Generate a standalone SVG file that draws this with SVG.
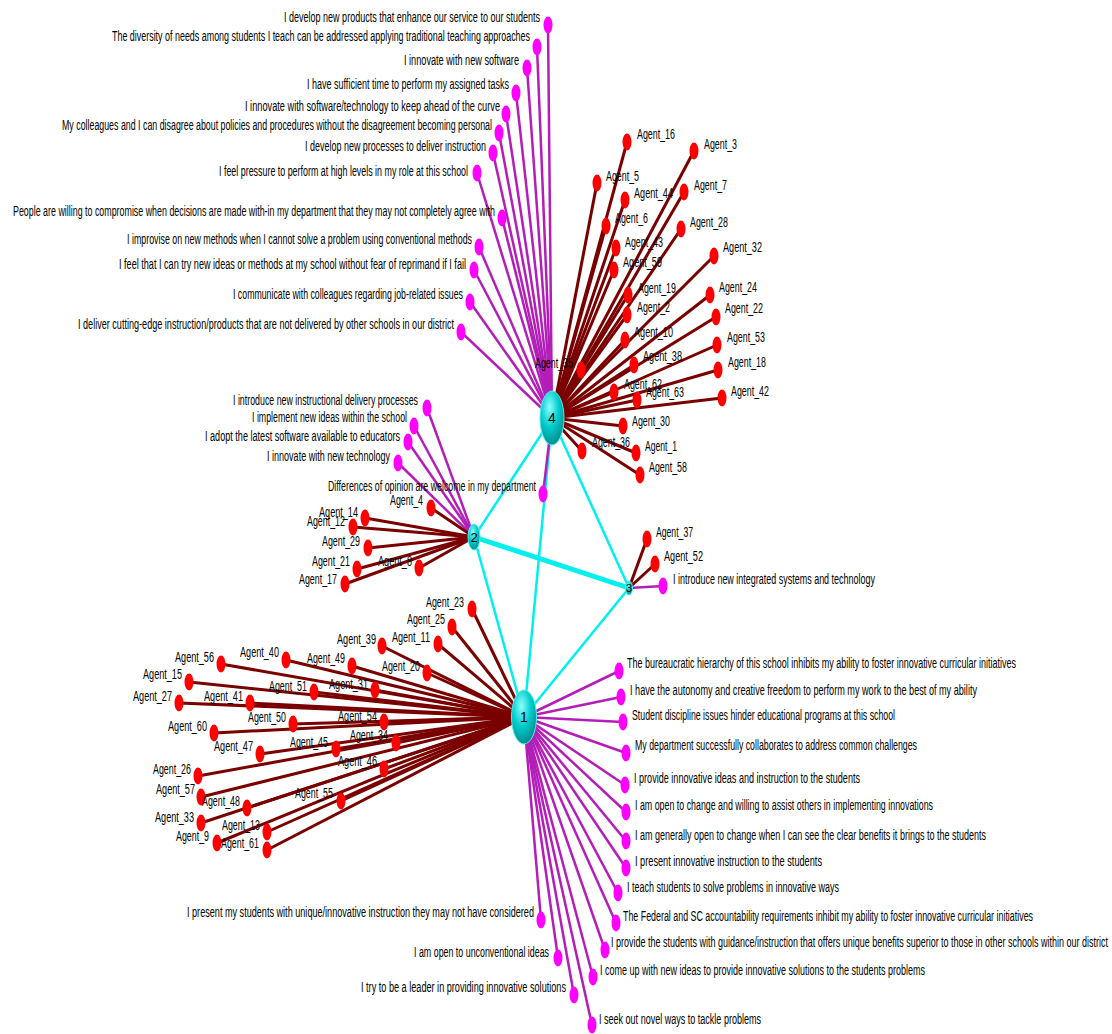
<svg xmlns="http://www.w3.org/2000/svg" width="1112" height="1034" viewBox="0 0 1112 1034">
<defs>
<radialGradient id="hubg" cx="0.4" cy="0.3" r="0.75">
<stop offset="0" stop-color="#8affff"/>
<stop offset="0.5" stop-color="#00cccc"/>
<stop offset="1" stop-color="#008585"/>
</radialGradient>
<style>
.cy{stroke:#00f0f0;stroke-width:2.5}
.cyt{stroke:#00f0f0;stroke-width:5}
.ag{stroke:#7a0000;stroke-width:3}
.it{stroke:#b31eb8;stroke-width:2.5}
.ad{fill:#ff0000}
.id{fill:#ff00ff}
.hub{fill:url(#hubg);stroke:#4ff0f0;stroke-width:1}
text{font-family:"Liberation Sans",Arial,sans-serif;font-size:14px;fill:#000}
.hl{text-anchor:middle;font-size:14px}
</style>
</defs>
<rect width="1112" height="1034" fill="#ffffff"/>
<g id="connectors">
<!-- hub to hub -->
<line class="cy" x1="552" y1="418" x2="474" y2="537"/>
<line class="cy" x1="552" y1="418" x2="629" y2="588"/>
<line class="cy" x1="552" y1="418" x2="524" y2="717"/>
<line class="cy" x1="474" y1="537" x2="524" y2="717"/>
<line class="cyt" x1="474" y1="537" x2="629" y2="588"/>
<line class="cy" x1="524" y1="717" x2="629" y2="588"/>
<!-- node 4 items -->
<line class="it" x1="548" y1="25" x2="552" y2="418"/>
<line class="it" x1="537" y1="47" x2="552" y2="418"/>
<line class="it" x1="527" y1="68" x2="552" y2="418"/>
<line class="it" x1="516" y1="93" x2="552" y2="418"/>
<line class="it" x1="506" y1="114" x2="552" y2="418"/>
<line class="it" x1="499" y1="133" x2="552" y2="418"/>
<line class="it" x1="493" y1="153" x2="552" y2="418"/>
<line class="it" x1="477" y1="173" x2="552" y2="418"/>
<line class="it" x1="502" y1="218" x2="552" y2="418"/>
<line class="it" x1="479" y1="247" x2="552" y2="418"/>
<line class="it" x1="474" y1="270" x2="552" y2="418"/>
<line class="it" x1="470" y1="302" x2="552" y2="418"/>
<line class="it" x1="461" y1="332" x2="552" y2="418"/>
<line class="it" x1="543" y1="494" x2="552" y2="418"/>
<!-- node 4 agents -->
<line class="ag" x1="627" y1="142" x2="552" y2="418"/>
<line class="ag" x1="694" y1="151" x2="552" y2="418"/>
<line class="ag" x1="597" y1="183" x2="552" y2="418"/>
<line class="ag" x1="625" y1="200" x2="552" y2="418"/>
<line class="ag" x1="684" y1="192" x2="552" y2="418"/>
<line class="ag" x1="606" y1="226" x2="552" y2="418"/>
<line class="ag" x1="681" y1="229" x2="552" y2="418"/>
<line class="ag" x1="616" y1="248" x2="552" y2="418"/>
<line class="ag" x1="614" y1="270" x2="552" y2="418"/>
<line class="ag" x1="714" y1="256" x2="552" y2="418"/>
<line class="ag" x1="628" y1="295" x2="552" y2="418"/>
<line class="ag" x1="710" y1="295" x2="552" y2="418"/>
<line class="ag" x1="627" y1="315" x2="552" y2="418"/>
<line class="ag" x1="716" y1="317" x2="552" y2="418"/>
<line class="ag" x1="625" y1="340" x2="552" y2="418"/>
<line class="ag" x1="717" y1="345" x2="552" y2="418"/>
<line class="ag" x1="581" y1="370" x2="552" y2="418"/>
<line class="ag" x1="634" y1="365" x2="552" y2="418"/>
<line class="ag" x1="718" y1="370" x2="552" y2="418"/>
<line class="ag" x1="614" y1="392" x2="552" y2="418"/>
<line class="ag" x1="637" y1="400" x2="552" y2="418"/>
<line class="ag" x1="722" y1="398" x2="552" y2="418"/>
<line class="ag" x1="623" y1="426" x2="552" y2="418"/>
<line class="ag" x1="582" y1="451" x2="552" y2="418"/>
<line class="ag" x1="636" y1="453" x2="552" y2="418"/>
<line class="ag" x1="640" y1="475" x2="552" y2="418"/>
<!-- node 2 -->
<line class="it" x1="427" y1="408" x2="474" y2="537"/>
<line class="it" x1="414" y1="426" x2="474" y2="537"/>
<line class="it" x1="408" y1="442" x2="474" y2="537"/>
<line class="it" x1="398" y1="463" x2="474" y2="537"/>
<line class="ag" x1="431" y1="508" x2="474" y2="537"/>
<line class="ag" x1="365" y1="518" x2="474" y2="537"/>
<line class="ag" x1="353" y1="527" x2="474" y2="537"/>
<line class="ag" x1="368" y1="548" x2="474" y2="537"/>
<line class="ag" x1="357" y1="569" x2="474" y2="537"/>
<line class="ag" x1="345" y1="584" x2="474" y2="537"/>
<line class="ag" x1="419" y1="568" x2="474" y2="537"/>
<!-- node 3 -->
<line class="ag" x1="647" y1="539" x2="629" y2="588"/>
<line class="ag" x1="655" y1="564" x2="629" y2="588"/>
<line class="it" x1="663" y1="586" x2="629" y2="588"/>
<!-- node 1 agents -->
<line class="ag" x1="472" y1="609" x2="524" y2="717"/>
<line class="ag" x1="452" y1="627" x2="524" y2="717"/>
<line class="ag" x1="438" y1="644" x2="524" y2="717"/>
<line class="ag" x1="382" y1="646" x2="524" y2="717"/>
<line class="ag" x1="427" y1="673" x2="524" y2="717"/>
<line class="ag" x1="221" y1="664" x2="524" y2="717"/>
<line class="ag" x1="286" y1="660" x2="524" y2="717"/>
<line class="ag" x1="352" y1="666" x2="524" y2="717"/>
<line class="ag" x1="189" y1="682" x2="524" y2="717"/>
<line class="ag" x1="314" y1="692" x2="524" y2="717"/>
<line class="ag" x1="375" y1="690" x2="524" y2="717"/>
<line class="ag" x1="179" y1="703" x2="524" y2="717"/>
<line class="ag" x1="250" y1="703" x2="524" y2="717"/>
<line class="ag" x1="214" y1="733" x2="524" y2="717"/>
<line class="ag" x1="293" y1="724" x2="524" y2="717"/>
<line class="ag" x1="384" y1="722" x2="524" y2="717"/>
<line class="ag" x1="396" y1="743" x2="524" y2="717"/>
<line class="ag" x1="260" y1="754" x2="524" y2="717"/>
<line class="ag" x1="336" y1="749" x2="524" y2="717"/>
<line class="ag" x1="384" y1="769" x2="524" y2="717"/>
<line class="ag" x1="198" y1="776" x2="524" y2="717"/>
<line class="ag" x1="201" y1="797" x2="524" y2="717"/>
<line class="ag" x1="247" y1="808" x2="524" y2="717"/>
<line class="ag" x1="341" y1="801" x2="524" y2="717"/>
<line class="ag" x1="201" y1="823" x2="524" y2="717"/>
<line class="ag" x1="267" y1="832" x2="524" y2="717"/>
<line class="ag" x1="217" y1="843" x2="524" y2="717"/>
<line class="ag" x1="267" y1="850" x2="524" y2="717"/>
<!-- node 1 items -->
<line class="it" x1="619" y1="671" x2="524" y2="717"/>
<line class="it" x1="621" y1="697" x2="524" y2="717"/>
<line class="it" x1="623" y1="722" x2="524" y2="717"/>
<line class="it" x1="626" y1="753" x2="524" y2="717"/>
<line class="it" x1="625" y1="785" x2="524" y2="717"/>
<line class="it" x1="626" y1="812" x2="524" y2="717"/>
<line class="it" x1="626" y1="841" x2="524" y2="717"/>
<line class="it" x1="626" y1="868" x2="524" y2="717"/>
<line class="it" x1="618" y1="893" x2="524" y2="717"/>
<line class="it" x1="541" y1="920" x2="524" y2="717"/>
<line class="it" x1="616" y1="923" x2="524" y2="717"/>
<line class="it" x1="605" y1="950" x2="524" y2="717"/>
<line class="it" x1="558" y1="958" x2="524" y2="717"/>
<line class="it" x1="593" y1="977" x2="524" y2="717"/>
<line class="it" x1="574" y1="995" x2="524" y2="717"/>
<line class="it" x1="592" y1="1025" x2="524" y2="717"/>
</g>

<!-- node 4 items -->
<g id="item-4-1"><ellipse class="id" cx="548" cy="25" rx="4.5" ry="8.5"/><text x="284" y="22" textLength="256" lengthAdjust="spacingAndGlyphs">I develop new products that enhance our service to our students</text></g>
<g id="item-4-2"><ellipse class="id" cx="537" cy="47" rx="4.5" ry="8.5"/><text x="112" y="41" textLength="418" lengthAdjust="spacingAndGlyphs">The diversity of needs among students I teach can be addressed applying traditional teaching approaches</text></g>
<g id="item-4-3"><ellipse class="id" cx="527" cy="68" rx="4.5" ry="8.5"/><text x="404" y="65" textLength="115" lengthAdjust="spacingAndGlyphs">I innovate with new software</text></g>
<g id="item-4-4"><ellipse class="id" cx="516" cy="93" rx="4.5" ry="8.5"/><text x="307" y="89" textLength="202" lengthAdjust="spacingAndGlyphs">I have sufficient time to perform my assigned tasks</text></g>
<g id="item-4-5"><ellipse class="id" cx="506" cy="114" rx="4.5" ry="8.5"/><text x="245" y="111" textLength="255" lengthAdjust="spacingAndGlyphs">I innovate with software/technology to keep ahead of the curve</text></g>
<g id="item-4-6"><ellipse class="id" cx="499" cy="133" rx="4.5" ry="8.5"/><text x="62" y="130" textLength="430" lengthAdjust="spacingAndGlyphs">My colleagues and I can disagree about policies and procedures without the disagreement becoming personal</text></g>
<g id="item-4-7"><ellipse class="id" cx="493" cy="153" rx="4.5" ry="8.5"/><text x="305" y="151" textLength="181" lengthAdjust="spacingAndGlyphs">I develop new processes to deliver instruction</text></g>
<g id="item-4-8"><ellipse class="id" cx="477" cy="173" rx="4.5" ry="8.5"/><text x="219" y="176" textLength="249" lengthAdjust="spacingAndGlyphs">I feel pressure to perform at high levels in my role at this school</text></g>
<g id="item-4-9"><ellipse class="id" cx="502" cy="218" rx="4.5" ry="8.5"/><text x="13" y="216" textLength="482" lengthAdjust="spacingAndGlyphs">People are willing to compromise when decisions are made with-in my department that they may not completely agree with</text></g>
<g id="item-4-10"><ellipse class="id" cx="479" cy="247" rx="4.5" ry="8.5"/><text x="127" y="244" textLength="345" lengthAdjust="spacingAndGlyphs">I improvise on new methods when I cannot solve a problem using conventional methods</text></g>
<g id="item-4-11"><ellipse class="id" cx="474" cy="270" rx="4.5" ry="8.5"/><text x="119" y="269" textLength="347" lengthAdjust="spacingAndGlyphs">I feel that I can try new ideas or methods at my school without fear of reprimand if I fail</text></g>
<g id="item-4-12"><ellipse class="id" cx="470" cy="302" rx="4.5" ry="8.5"/><text x="233" y="299" textLength="230" lengthAdjust="spacingAndGlyphs">I communicate with colleagues regarding job-related issues</text></g>
<g id="item-4-13"><ellipse class="id" cx="461" cy="332" rx="4.5" ry="8.5"/><text x="78" y="329" textLength="376" lengthAdjust="spacingAndGlyphs">I deliver cutting-edge instruction/products that are not delivered by other schools in our district</text></g>
<g id="item-4-14"><ellipse class="id" cx="543" cy="494" rx="4.5" ry="8.5"/><text x="328" y="491" textLength="208" lengthAdjust="spacingAndGlyphs">Differences of opinion are welcome in my department</text></g>

<!-- node 4 agents -->
<g id="agent-16"><ellipse class="ad" cx="627" cy="142" rx="4.5" ry="8.5"/><text x="637" y="139" textLength="38" lengthAdjust="spacingAndGlyphs">Agent_16</text></g>
<g id="agent-3"><ellipse class="ad" cx="694" cy="151" rx="4.5" ry="8.5"/><text x="704" y="149" textLength="33" lengthAdjust="spacingAndGlyphs">Agent_3</text></g>
<g id="agent-5"><ellipse class="ad" cx="597" cy="183" rx="4.5" ry="8.5"/><text x="606" y="181" textLength="33" lengthAdjust="spacingAndGlyphs">Agent_5</text></g>
<g id="agent-44"><ellipse class="ad" cx="625" cy="200" rx="4.5" ry="8.5"/><text x="634" y="198" textLength="39" lengthAdjust="spacingAndGlyphs">Agent_44</text></g>
<g id="agent-7"><ellipse class="ad" cx="684" cy="192" rx="4.5" ry="8.5"/><text x="694" y="190" textLength="33" lengthAdjust="spacingAndGlyphs">Agent_7</text></g>
<g id="agent-6"><ellipse class="ad" cx="606" cy="226" rx="4.5" ry="8.5"/><text x="615" y="223" textLength="33" lengthAdjust="spacingAndGlyphs">Agent_6</text></g>
<g id="agent-28"><ellipse class="ad" cx="681" cy="229" rx="4.5" ry="8.5"/><text x="690" y="227" textLength="38" lengthAdjust="spacingAndGlyphs">Agent_28</text></g>
<g id="agent-43"><ellipse class="ad" cx="616" cy="248" rx="4.5" ry="8.5"/><text x="625" y="247" textLength="38" lengthAdjust="spacingAndGlyphs">Agent_43</text></g>
<g id="agent-59"><ellipse class="ad" cx="614" cy="270" rx="4.5" ry="8.5"/><text x="623" y="267" textLength="39" lengthAdjust="spacingAndGlyphs">Agent_59</text></g>
<g id="agent-32"><ellipse class="ad" cx="714" cy="256" rx="4.5" ry="8.5"/><text x="723" y="252" textLength="39" lengthAdjust="spacingAndGlyphs">Agent_32</text></g>
<g id="agent-19"><ellipse class="ad" cx="628" cy="295" rx="4.5" ry="8.5"/><text x="638" y="293" textLength="38" lengthAdjust="spacingAndGlyphs">Agent_19</text></g>
<g id="agent-24"><ellipse class="ad" cx="710" cy="295" rx="4.5" ry="8.5"/><text x="719" y="292" textLength="38" lengthAdjust="spacingAndGlyphs">Agent_24</text></g>
<g id="agent-2"><ellipse class="ad" cx="627" cy="315" rx="4.5" ry="8.5"/><text x="637" y="312" textLength="33" lengthAdjust="spacingAndGlyphs">Agent_2</text></g>
<g id="agent-22"><ellipse class="ad" cx="716" cy="317" rx="4.5" ry="8.5"/><text x="725" y="313" textLength="38" lengthAdjust="spacingAndGlyphs">Agent_22</text></g>
<g id="agent-10"><ellipse class="ad" cx="625" cy="340" rx="4.5" ry="8.5"/><text x="634" y="337" textLength="39" lengthAdjust="spacingAndGlyphs">Agent_10</text></g>
<g id="agent-53"><ellipse class="ad" cx="717" cy="345" rx="4.5" ry="8.5"/><text x="727" y="342" textLength="38" lengthAdjust="spacingAndGlyphs">Agent_53</text></g>
<g id="agent-35"><ellipse class="ad" cx="581" cy="370" rx="4.5" ry="8.5"/><text x="535" y="368" textLength="38" lengthAdjust="spacingAndGlyphs">Agent_35</text></g>
<g id="agent-38"><ellipse class="ad" cx="634" cy="365" rx="4.5" ry="8.5"/><text x="643" y="361" textLength="39" lengthAdjust="spacingAndGlyphs">Agent_38</text></g>
<g id="agent-18"><ellipse class="ad" cx="718" cy="370" rx="4.5" ry="8.5"/><text x="728" y="367" textLength="38" lengthAdjust="spacingAndGlyphs">Agent_18</text></g>
<g id="agent-62"><ellipse class="ad" cx="614" cy="392" rx="4.5" ry="8.5"/><text x="624" y="389" textLength="38" lengthAdjust="spacingAndGlyphs">Agent_62</text></g>
<g id="agent-63"><ellipse class="ad" cx="637" cy="400" rx="4.5" ry="8.5"/><text x="646" y="397" textLength="38" lengthAdjust="spacingAndGlyphs">Agent_63</text></g>
<g id="agent-42"><ellipse class="ad" cx="722" cy="398" rx="4.5" ry="8.5"/><text x="731" y="396" textLength="38" lengthAdjust="spacingAndGlyphs">Agent_42</text></g>
<g id="agent-30"><ellipse class="ad" cx="623" cy="426" rx="4.5" ry="8.5"/><text x="632" y="426" textLength="38" lengthAdjust="spacingAndGlyphs">Agent_30</text></g>
<g id="agent-36"><ellipse class="ad" cx="582" cy="451" rx="4.5" ry="8.5"/><text x="592" y="447" textLength="38" lengthAdjust="spacingAndGlyphs">Agent_36</text></g>
<g id="agent-1"><ellipse class="ad" cx="636" cy="453" rx="4.5" ry="8.5"/><text x="645" y="451" textLength="32" lengthAdjust="spacingAndGlyphs">Agent_1</text></g>
<g id="agent-58"><ellipse class="ad" cx="640" cy="475" rx="4.5" ry="8.5"/><text x="649" y="472" textLength="38" lengthAdjust="spacingAndGlyphs">Agent_58</text></g>

<!-- node 2 items and agents -->
<g id="item-2-1"><ellipse class="id" cx="427" cy="408" rx="4.5" ry="8.5"/><text x="233" y="405" textLength="185" lengthAdjust="spacingAndGlyphs">I introduce new instructional delivery processes</text></g>
<g id="item-2-2"><ellipse class="id" cx="414" cy="426" rx="4.5" ry="8.5"/><text x="252" y="422" textLength="155" lengthAdjust="spacingAndGlyphs">I implement new ideas within the school</text></g>
<g id="item-2-3"><ellipse class="id" cx="408" cy="442" rx="4.5" ry="8.5"/><text x="205" y="441" textLength="195" lengthAdjust="spacingAndGlyphs">I adopt the latest software available to educators</text></g>
<g id="item-2-4"><ellipse class="id" cx="398" cy="463" rx="4.5" ry="8.5"/><text x="267" y="461" textLength="123" lengthAdjust="spacingAndGlyphs">I innovate with new technology</text></g>
<g id="agent-4"><ellipse class="ad" cx="431" cy="508" rx="4.5" ry="8.5"/><text x="390" y="505" textLength="33" lengthAdjust="spacingAndGlyphs">Agent_4</text></g>
<g id="agent-14"><ellipse class="ad" cx="365" cy="518" rx="4.5" ry="8.5"/><text x="319" y="517" textLength="39" lengthAdjust="spacingAndGlyphs">Agent_14</text></g>
<g id="agent-12"><ellipse class="ad" cx="353" cy="527" rx="4.5" ry="8.5"/><text x="307" y="526" textLength="38" lengthAdjust="spacingAndGlyphs">Agent_12</text></g>
<g id="agent-29"><ellipse class="ad" cx="368" cy="548" rx="4.5" ry="8.5"/><text x="322" y="546" textLength="38" lengthAdjust="spacingAndGlyphs">Agent_29</text></g>
<g id="agent-21"><ellipse class="ad" cx="357" cy="569" rx="4.5" ry="8.5"/><text x="312" y="566" textLength="38" lengthAdjust="spacingAndGlyphs">Agent_21</text></g>
<g id="agent-17"><ellipse class="ad" cx="345" cy="584" rx="4.5" ry="8.5"/><text x="299" y="584" textLength="38" lengthAdjust="spacingAndGlyphs">Agent_17</text></g>
<g id="agent-8"><ellipse class="ad" cx="419" cy="568" rx="4.5" ry="8.5"/><text x="378" y="566" textLength="34" lengthAdjust="spacingAndGlyphs">Agent_8</text></g>

<!-- node 3 -->
<g id="agent-37"><ellipse class="ad" cx="647" cy="539" rx="4.5" ry="8.5"/><text x="656" y="537" textLength="37" lengthAdjust="spacingAndGlyphs">Agent_37</text></g>
<g id="agent-52"><ellipse class="ad" cx="655" cy="564" rx="4.5" ry="8.5"/><text x="664" y="561" textLength="39" lengthAdjust="spacingAndGlyphs">Agent_52</text></g>
<g id="item-3-1"><ellipse class="id" cx="663" cy="586" rx="4.5" ry="8.5"/><text x="673" y="584" textLength="202" lengthAdjust="spacingAndGlyphs">I introduce new integrated systems and technology</text></g>

<!-- node 1 agents -->
<g id="agent-23"><ellipse class="ad" cx="472" cy="609" rx="4.5" ry="8.5"/><text x="426" y="607" textLength="38" lengthAdjust="spacingAndGlyphs">Agent_23</text></g>
<g id="agent-25"><ellipse class="ad" cx="452" cy="627" rx="4.5" ry="8.5"/><text x="407" y="624" textLength="38" lengthAdjust="spacingAndGlyphs">Agent_25</text></g>
<g id="agent-11"><ellipse class="ad" cx="438" cy="644" rx="4.5" ry="8.5"/><text x="392" y="642" textLength="38" lengthAdjust="spacingAndGlyphs">Agent_11</text></g>
<g id="agent-39"><ellipse class="ad" cx="382" cy="646" rx="4.5" ry="8.5"/><text x="337" y="644" textLength="39" lengthAdjust="spacingAndGlyphs">Agent_39</text></g>
<g id="agent-20"><ellipse class="ad" cx="427" cy="673" rx="4.5" ry="8.5"/><text x="382" y="671" textLength="38" lengthAdjust="spacingAndGlyphs">Agent_20</text></g>
<g id="agent-56"><ellipse class="ad" cx="221" cy="664" rx="4.5" ry="8.5"/><text x="175" y="662" textLength="39" lengthAdjust="spacingAndGlyphs">Agent_56</text></g>
<g id="agent-40"><ellipse class="ad" cx="286" cy="660" rx="4.5" ry="8.5"/><text x="240" y="657" textLength="39" lengthAdjust="spacingAndGlyphs">Agent_40</text></g>
<g id="agent-49"><ellipse class="ad" cx="352" cy="666" rx="4.5" ry="8.5"/><text x="307" y="663" textLength="38" lengthAdjust="spacingAndGlyphs">Agent_49</text></g>
<g id="agent-15"><ellipse class="ad" cx="189" cy="682" rx="4.5" ry="8.5"/><text x="143" y="679" textLength="39" lengthAdjust="spacingAndGlyphs">Agent_15</text></g>
<g id="agent-51"><ellipse class="ad" cx="314" cy="692" rx="4.5" ry="8.5"/><text x="269" y="691" textLength="38" lengthAdjust="spacingAndGlyphs">Agent_51</text></g>
<g id="agent-31"><ellipse class="ad" cx="375" cy="690" rx="4.5" ry="8.5"/><text x="329" y="689" textLength="39" lengthAdjust="spacingAndGlyphs">Agent_31</text></g>
<g id="agent-27"><ellipse class="ad" cx="179" cy="703" rx="4.5" ry="8.5"/><text x="133" y="701" textLength="39" lengthAdjust="spacingAndGlyphs">Agent_27</text></g>
<g id="agent-41"><ellipse class="ad" cx="250" cy="703" rx="4.5" ry="8.5"/><text x="204" y="701" textLength="39" lengthAdjust="spacingAndGlyphs">Agent_41</text></g>
<g id="agent-60"><ellipse class="ad" cx="214" cy="733" rx="4.5" ry="8.5"/><text x="168" y="731" textLength="39" lengthAdjust="spacingAndGlyphs">Agent_60</text></g>
<g id="agent-50"><ellipse class="ad" cx="293" cy="724" rx="4.5" ry="8.5"/><text x="248" y="722" textLength="38" lengthAdjust="spacingAndGlyphs">Agent_50</text></g>
<g id="agent-54"><ellipse class="ad" cx="384" cy="722" rx="4.5" ry="8.5"/><text x="338" y="721" textLength="39" lengthAdjust="spacingAndGlyphs">Agent_54</text></g>
<g id="agent-34"><ellipse class="ad" cx="396" cy="743" rx="4.5" ry="8.5"/><text x="350" y="740" textLength="38" lengthAdjust="spacingAndGlyphs">Agent_34</text></g>
<g id="agent-47"><ellipse class="ad" cx="260" cy="754" rx="4.5" ry="8.5"/><text x="214" y="751" textLength="39" lengthAdjust="spacingAndGlyphs">Agent_47</text></g>
<g id="agent-45"><ellipse class="ad" cx="336" cy="749" rx="4.5" ry="8.5"/><text x="290" y="747" textLength="38" lengthAdjust="spacingAndGlyphs">Agent_45</text></g>
<g id="agent-46"><ellipse class="ad" cx="384" cy="769" rx="4.5" ry="8.5"/><text x="338" y="766" textLength="39" lengthAdjust="spacingAndGlyphs">Agent_46</text></g>
<g id="agent-26"><ellipse class="ad" cx="198" cy="776" rx="4.5" ry="8.5"/><text x="153" y="774" textLength="38" lengthAdjust="spacingAndGlyphs">Agent_26</text></g>
<g id="agent-57"><ellipse class="ad" cx="201" cy="797" rx="4.5" ry="8.5"/><text x="156" y="794" textLength="39" lengthAdjust="spacingAndGlyphs">Agent_57</text></g>
<g id="agent-48"><ellipse class="ad" cx="247" cy="808" rx="4.5" ry="8.5"/><text x="202" y="806" textLength="38" lengthAdjust="spacingAndGlyphs">Agent_48</text></g>
<g id="agent-55"><ellipse class="ad" cx="341" cy="801" rx="4.5" ry="8.5"/><text x="295" y="798" textLength="38" lengthAdjust="spacingAndGlyphs">Agent_55</text></g>
<g id="agent-33"><ellipse class="ad" cx="201" cy="823" rx="4.5" ry="8.5"/><text x="155" y="822" textLength="39" lengthAdjust="spacingAndGlyphs">Agent_33</text></g>
<g id="agent-13"><ellipse class="ad" cx="267" cy="832" rx="4.5" ry="8.5"/><text x="222" y="830" textLength="38" lengthAdjust="spacingAndGlyphs">Agent_13</text></g>
<g id="agent-9"><ellipse class="ad" cx="217" cy="843" rx="4.5" ry="8.5"/><text x="176" y="841" textLength="33" lengthAdjust="spacingAndGlyphs">Agent_9</text></g>
<g id="agent-61"><ellipse class="ad" cx="267" cy="850" rx="4.5" ry="8.5"/><text x="221" y="848" textLength="38" lengthAdjust="spacingAndGlyphs">Agent_61</text></g>

<!-- node 1 items -->
<g id="item-1-1"><ellipse class="id" cx="619" cy="671" rx="4.5" ry="8.5"/><text x="627" y="668" textLength="389" lengthAdjust="spacingAndGlyphs">The bureaucratic hierarchy of this school inhibits my ability to foster innovative curricular initiatives</text></g>
<g id="item-1-2"><ellipse class="id" cx="621" cy="697" rx="4.5" ry="8.5"/><text x="630" y="695" textLength="347" lengthAdjust="spacingAndGlyphs">I have the autonomy and creative freedom to perform my work to the best of my ability</text></g>
<g id="item-1-3"><ellipse class="id" cx="623" cy="722" rx="4.5" ry="8.5"/><text x="632" y="720" textLength="263" lengthAdjust="spacingAndGlyphs">Student discipline issues hinder educational programs at this school</text></g>
<g id="item-1-4"><ellipse class="id" cx="626" cy="753" rx="4.5" ry="8.5"/><text x="635" y="750" textLength="282" lengthAdjust="spacingAndGlyphs">My department successfully collaborates to address common challenges</text></g>
<g id="item-1-5"><ellipse class="id" cx="625" cy="785" rx="4.5" ry="8.5"/><text x="634" y="783" textLength="226" lengthAdjust="spacingAndGlyphs">I provide innovative ideas and instruction to the students</text></g>
<g id="item-1-6"><ellipse class="id" cx="626" cy="812" rx="4.5" ry="8.5"/><text x="635" y="810" textLength="298" lengthAdjust="spacingAndGlyphs">I am open to change and willing to assist others in implementing innovations</text></g>
<g id="item-1-7"><ellipse class="id" cx="626" cy="841" rx="4.5" ry="8.5"/><text x="635" y="840" textLength="351" lengthAdjust="spacingAndGlyphs">I am generally open to change when I can see the clear benefits it brings to the students</text></g>
<g id="item-1-8"><ellipse class="id" cx="626" cy="868" rx="4.5" ry="8.5"/><text x="635" y="866" textLength="187" lengthAdjust="spacingAndGlyphs">I present innovative instruction to the students</text></g>
<g id="item-1-9"><ellipse class="id" cx="618" cy="893" rx="4.5" ry="8.5"/><text x="627" y="892" textLength="212" lengthAdjust="spacingAndGlyphs">I teach students to solve problems in innovative ways</text></g>
<g id="item-1-10"><ellipse class="id" cx="541" cy="920" rx="4.5" ry="8.5"/><text x="187" y="917" textLength="347" lengthAdjust="spacingAndGlyphs">I present my students with unique/innovative instruction they may not have considered</text></g>
<g id="item-1-11"><ellipse class="id" cx="616" cy="923" rx="4.5" ry="8.5"/><text x="623" y="921" textLength="410" lengthAdjust="spacingAndGlyphs">The Federal and SC accountability requirements inhibit my ability to foster innovative curricular initiatives</text></g>
<g id="item-1-12"><ellipse class="id" cx="605" cy="950" rx="4.5" ry="8.5"/><text x="611" y="947" textLength="497" lengthAdjust="spacingAndGlyphs">I provide the students with guidance/instruction that offers unique benefits superior to those in other schools within our district</text></g>
<g id="item-1-13"><ellipse class="id" cx="558" cy="958" rx="4.5" ry="8.5"/><text x="414" y="957" textLength="135" lengthAdjust="spacingAndGlyphs">I am open to unconventional ideas</text></g>
<g id="item-1-14"><ellipse class="id" cx="593" cy="977" rx="4.5" ry="8.5"/><text x="600" y="975" textLength="325" lengthAdjust="spacingAndGlyphs">I come up with new ideas to provide innovative solutions to the students problems</text></g>
<g id="item-1-15"><ellipse class="id" cx="574" cy="995" rx="4.5" ry="8.5"/><text x="361" y="992" textLength="205" lengthAdjust="spacingAndGlyphs">I try to be a leader in providing innovative solutions</text></g>
<g id="item-1-16"><ellipse class="id" cx="592" cy="1025" rx="4.5" ry="8.5"/><text x="599" y="1024" textLength="162" lengthAdjust="spacingAndGlyphs">I seek out novel ways to tackle problems</text></g>

<!-- hubs -->
<g id="node-4"><ellipse class="hub" cx="552" cy="418" rx="12" ry="27"/><text class="hl" x="552" y="423">4</text></g>
<g id="node-1"><ellipse class="hub" cx="524" cy="717" rx="12.5" ry="27"/><text class="hl" x="524" y="722">1</text></g>
<g id="node-2"><ellipse class="hub" cx="474" cy="537" rx="6" ry="13"/><text class="hl" x="474" y="542" style="font-size:13px">2</text></g>
<g id="node-3"><ellipse class="hub" cx="629" cy="588" rx="3.5" ry="7"/><text class="hl" x="629" y="592" style="font-size:11px">3</text></g>
</svg>
